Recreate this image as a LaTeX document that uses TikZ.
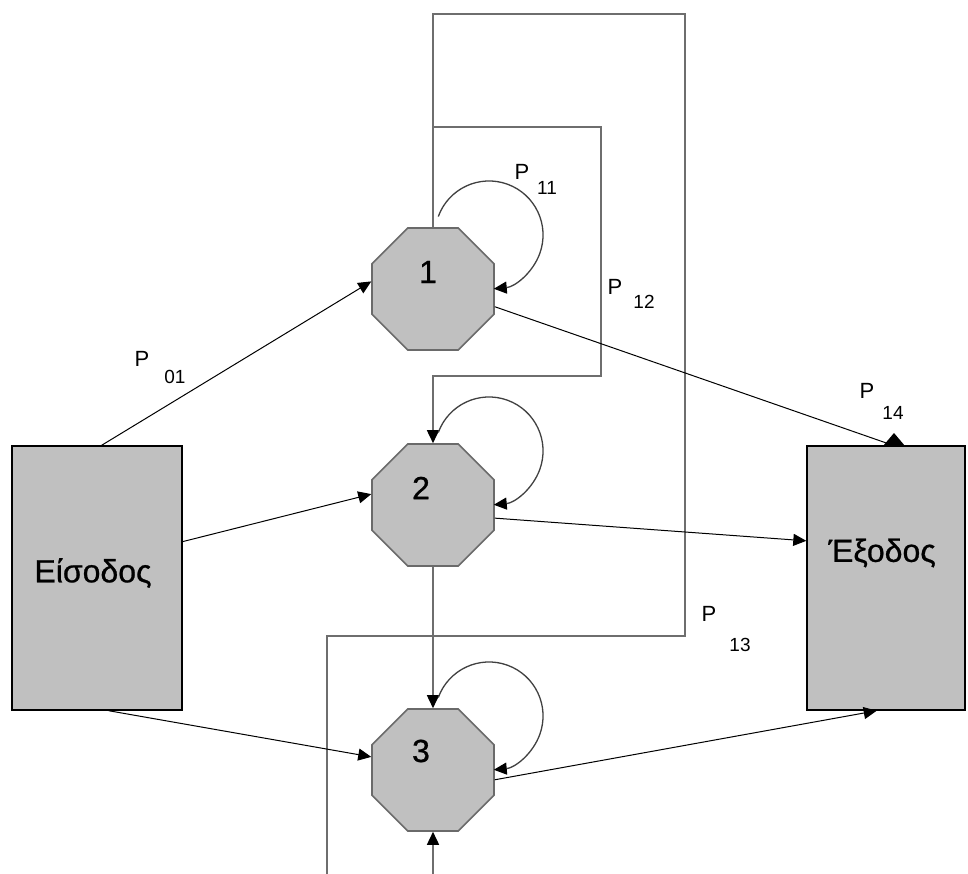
\documentclass[tikz,border=0pt]{standalone}
\usepackage{fontspec}
\setmainfont{Liberation Sans}
\newfontfamily\heavyfont[FakeBold=0.8]{Liberation Sans}
\usetikzlibrary{shapes.geometric,arrows.meta,calc}
\definecolor{boxfill}{HTML}{C0C0C0}
\definecolor{octline}{HTML}{6A6A6A}
\definecolor{fbcol}{HTML}{6E6E6E}
\begin{document}
\begin{tikzpicture}[x=1pt,y=1pt,
  oct/.style={regular polygon,regular polygon sides=8,minimum size=132pt,inner sep=0pt,
    fill=boxfill,draw=octline,line width=1.6pt},
  bigbox/.style={rectangle,fill=boxfill,draw=black,line width=1.4pt,inner sep=0pt},
  numtxt/.style={font=\heavyfont\fontsize{32}{36}\selectfont,inner sep=0pt},
  boxtxt/.style={font=\heavyfont\fontsize{32}{36}\selectfont,inner sep=0pt},
  ptxt/.style={font=\fontsize{22}{26}\selectfont,inner sep=0pt},
  subtxt/.style={font=\fontsize{19}{22}\selectfont,inner sep=0pt},
  tip/.style={-{Triangle[length=13pt,width=12pt,color=black]}},
  conn/.style={draw=black,line width=1pt},
  fb/.style={draw=fbcol,line width=1.6pt},
  loopline/.style={draw=black!75,line width=1.3pt}
]
\useasboundingbox (0,0) rectangle (968,-874);

% nodes
\node[oct] (o1) at (433,-289) {};
\node[oct] (o2) at (433,-505) {};
\node[oct] (o3) at (433,-770) {};
\node[numtxt] (t1) at (428,-272) {1};
\node[numtxt] (t2) at (421,-488) {2};
\node[numtxt] (t3) at (421,-751) {3};

\node[bigbox,minimum width=170pt,minimum height=264pt] (in) at (97,-578) {};
\node[boxtxt] (tin) at (93,-573) {Είσοδος};
\node[bigbox,minimum width=158pt,minimum height=264pt] (ex) at (886,-578) {};
\node[boxtxt] (tex) at (882,-553) {Έξοδος};

% free ends / junctions
\coordinate (top1) at (433,-14);
\coordinate (top2) at (685,-14);
\coordinate (r1) at (685,-636);
\coordinate (l1) at (327,-636);
\coordinate (b1) at (327,-874);
\coordinate (b2) at (433,-874);
\coordinate (j1) at (433,-127);
\coordinate (j2) at (601,-127);
\coordinate (j3) at (601,-376);
\coordinate (j4) at (433,-376);

% feedback paths
\draw[fb] (o1.north) -- (top1) -- (top2) -- (r1) -- (l1) -- (b1);
\draw[fb,tip] (j1) -- (j2) -- (j3) -- (j4) -- (o2.north);
\draw[fb,tip] (o2.south) -- (o3.north);
\draw[fb,tip] (b2) -- (o3.south);

% self loops
\draw[loopline,tip] ($(o1.center)+(5.3,72.5)$) arc[start angle=160,end angle=-85,radius=54];
\draw[loopline,tip] ($(o2.center)+(5.3,72.5)$) arc[start angle=160,end angle=-85,radius=54];
\draw[loopline,tip] ($(o3.center)+(5.3,72.5)$) arc[start angle=160,end angle=-85,radius=54];

% input connectors
\draw[conn,tip] (in.88.7) -- (o1.173);
\draw[conn,tip] (in.23.5) -- (o2.170.7);
\draw[conn,tip] (in.-85.2) -- (o3.168);

% output connectors
\draw[conn] (o1.-16) -- (ex.87);
\fill[black] (883,-446) -- (894,-433) -- (905,-446) -- cycle;
\draw[conn,tip] (o2.-12) -- (ex.155);
\draw[conn,tip] (o3.-9) -- (ex.266);

% labels
\node[ptxt] (p01) at (142,-359) {P};
\node[subtxt] (s01) at (175,-377) {01};
\node[ptxt] (p11) at (522,-172) {P};
\node[subtxt] (s11) at (547,-188) {11};
\node[ptxt] (p12) at (615,-287) {P};
\node[subtxt] (s12) at (644,-302) {12};
\node[ptxt] (p14) at (867,-391) {P};
\node[subtxt] (s14) at (893,-413) {14};
\node[ptxt] (p13) at (709,-614) {P};
\node[subtxt] (s13) at (740,-645) {13};
\end{tikzpicture}
\end{document}
